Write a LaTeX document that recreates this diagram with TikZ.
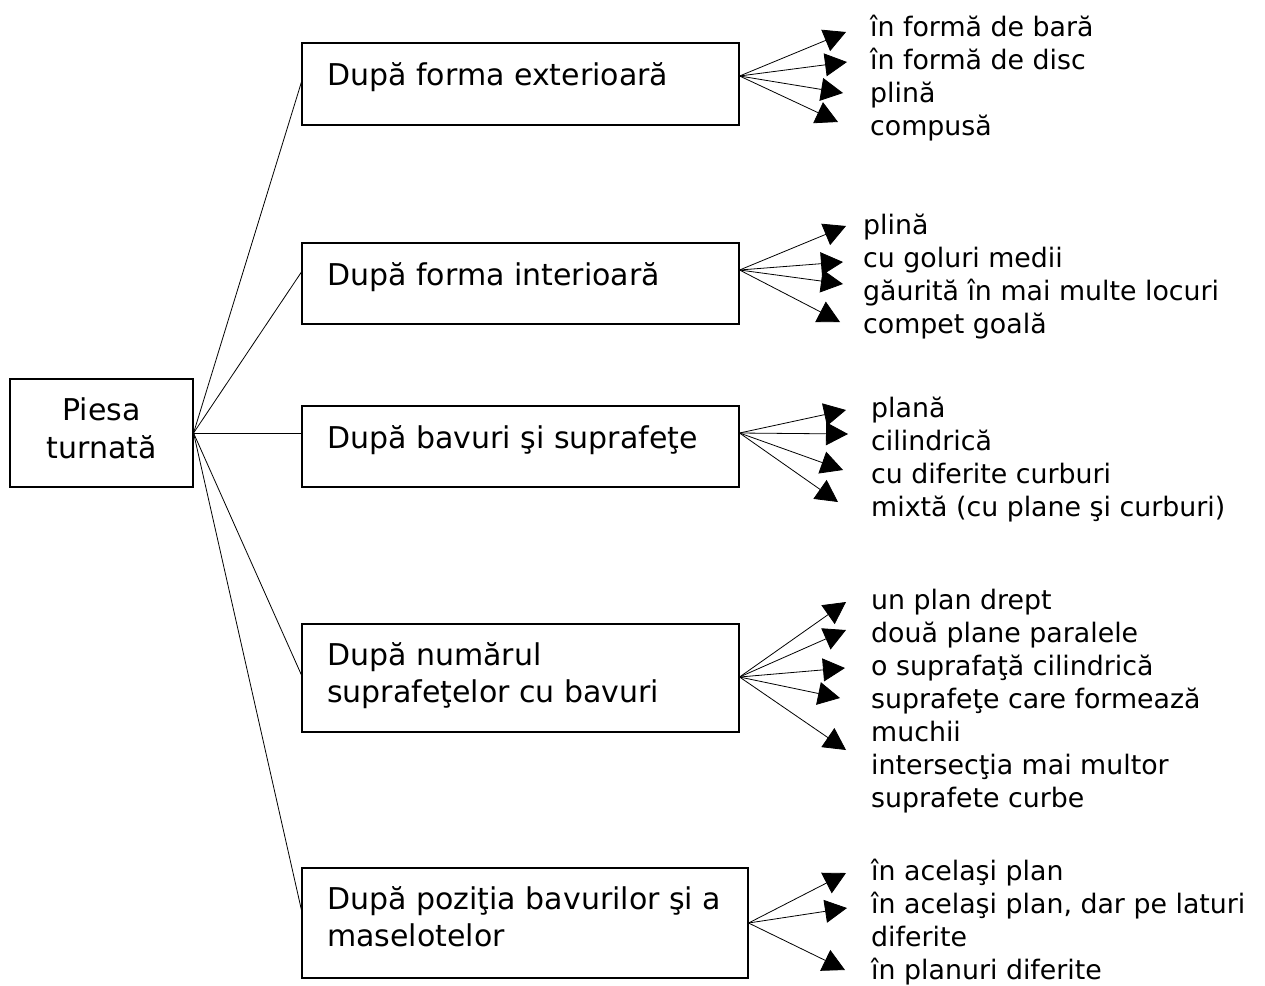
\documentclass[tikz,border=0pt]{standalone}
\usepackage{fontspec}
\setmainfont{DejaVu Sans}
\usetikzlibrary{arrows.meta}
\newcommand{\lines}[1]{\begin{tabular}[t]{@{}l@{}}#1\end{tabular}}
\begin{document}
\begin{tikzpicture}[x=1pt,y=-1pt,
  box/.style={draw, line width=1.1pt, inner sep=0pt},
  boxtext/.style={anchor=base west, inner sep=0pt,
    font=\fontsize{30}{37}\selectfont},
  roottext/.style={anchor=base, inner sep=0pt,
    font=\fontsize{30}{37}\selectfont},
  listtext/.style={anchor=base west, inner sep=0pt,
    font=\fontsize{26.8}{33}\selectfont},
  link/.style={line width=0.8pt},
  arr/.style={line width=0.8pt, -{Triangle[length=22pt,width=23pt]}}]
\useasboundingbox (0,0) rectangle (1265,985);

% root
\node[box, minimum width=183pt, minimum height=108pt] (root) at (101.5,433) {};
\node[roottext] (rt1) at (101.5,420) {Piesa};
\node[roottext] (rt2) at (101.5,458) {turnată};

% category boxes
\node[box, minimum width=437pt, minimum height=82pt]  (b1) at (520.5,84)   {};
\node[box, minimum width=437pt, minimum height=81pt]  (b2) at (520.5,283.5) {};
\node[box, minimum width=437pt, minimum height=81pt]  (b3) at (520.5,446.5) {};
\node[box, minimum width=437pt, minimum height=108pt] (b4) at (520.5,678)  {};
\node[box, minimum width=446pt, minimum height=110pt] (b5) at (525,923)    {};

\node[boxtext] (t1) at (327,85)  {După forma exterioară};
\node[boxtext] (t2) at (327,285) {După forma interioară};
\node[boxtext] (t3) at (327,448) {După bavuri şi suprafeţe};
\node[boxtext] (t4) at (327,665) {\lines{După numărul\\suprafeţelor cu bavuri}};
\node[boxtext] (t5) at (327,909) {\lines{După poziţia bavurilor şi a\\maselotelor}};

% root connectors
\draw[link] (root.east) -- ([yshift=2pt]b1.west);
\draw[link] (root.east) -- ([yshift=11.5pt]b2.west);
\draw[link] (root.east) -- ([yshift=13.5pt]b3.west);
\draw[link] (root.east) -- ([yshift=3pt]b4.west);
\draw[link] (root.east) -- ([yshift=13pt]b5.west);

% list texts
\node[listtext] (l1) at (870,36) {\lines{în formă de bară\\în formă de disc\\plină\\compusă}};
\node[listtext] (l2) at (863,234) {\lines{plină\\cu goluri medii\\găurită în mai multe locuri\\compet goală}};
\node[listtext] (l3) at (871,417) {\lines{plană\\cilindrică\\cu diferite curburi\\mixtă (cu plane şi curburi)}};
\node[listtext] (l4) at (871,609) {\lines{un plan drept\\două plane paralele\\o suprafaţă cilindrică\\suprafeţe care formează\\muchii\\intersecţia mai multor\\suprafete curbe}};
\node[listtext] (l5) at (871,880) {\lines{în acelaşi plan\\în acelaşi plan, dar pe laturi\\diferite\\în planuri diferite}};

% arrow end points
\coordinate (e11) at (846,32);  \coordinate (e12) at (847,62);
\coordinate (e13) at (843,93);  \coordinate (e14) at (838,122);
\coordinate (e21) at (846,226); \coordinate (e22) at (843,262);
\coordinate (e23) at (843,284); \coordinate (e24) at (840,322);
\coordinate (e31) at (846,410); \coordinate (e32) at (848,434);
\coordinate (e33) at (843,470); \coordinate (e34) at (838,502);
\coordinate (e41) at (846,602); \coordinate (e42) at (846,630);
\coordinate (e43) at (845,668); \coordinate (e44) at (840,698);
\coordinate (e45) at (846,750);
\coordinate (e51) at (846,873); \coordinate (e52) at (847,908);
\coordinate (e53) at (845,970);

\foreach \e in {e11,e12,e13,e14} \draw[arr] ([yshift=8pt]b1.east) -- (\e);
\foreach \e in {e21,e22,e23,e24} \draw[arr] ([yshift=13.5pt]b2.east) -- (\e);
\foreach \e in {e31,e32,e33,e34} \draw[arr] ([yshift=13.5pt]b3.east) -- (\e);
\foreach \e in {e41,e42,e43,e44,e45} \draw[arr] ([yshift=1pt]b4.east) -- (\e);
\foreach \e in {e51,e52,e53} \draw[arr] (b5.east) -- (\e);
\end{tikzpicture}
\end{document}
